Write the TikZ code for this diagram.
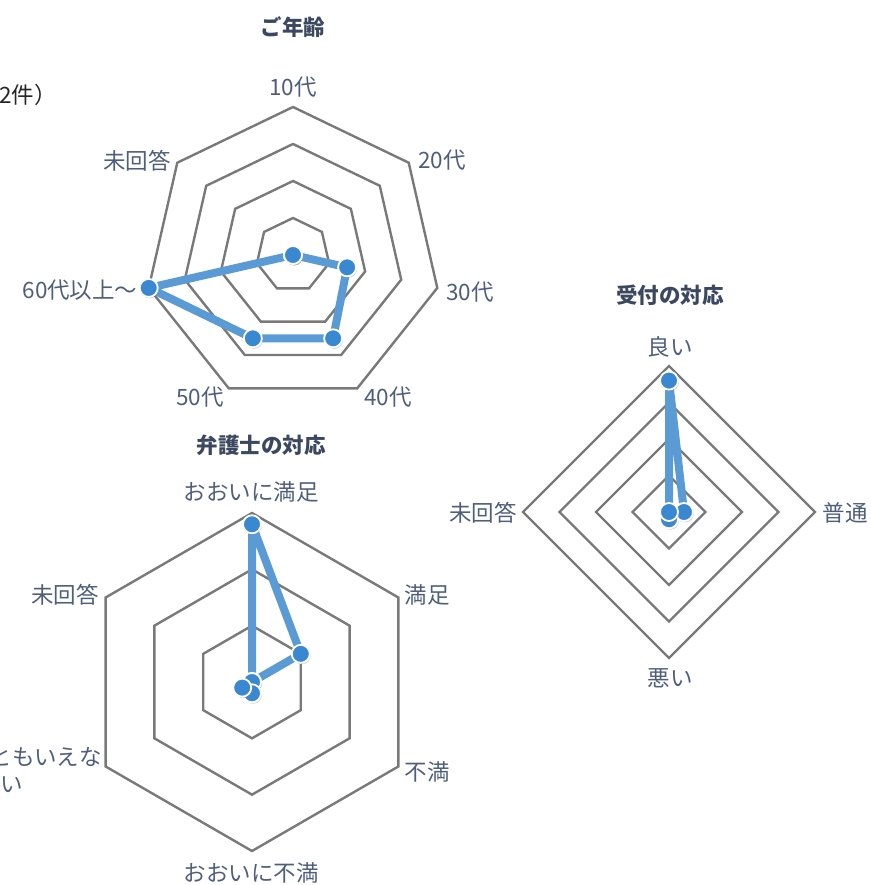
\documentclass[tikz,border=0pt]{standalone}
\usepackage{fontspec}
\setmainfont{Noto Sans CJK JP}
\usetikzlibrary{shadows}
\definecolor{gridc}{HTML}{797979}
\definecolor{linec}{HTML}{5B9BD5}
\definecolor{dotc}{HTML}{3A87D2}
\definecolor{labc}{HTML}{4F5F7B}
\definecolor{titc}{HTML}{3B4860}
\begin{document}
\begin{tikzpicture}[x=1pt,y=1pt,
  grid/.style={draw=gridc, line width=2.4pt, line join=miter},
  dataline/.style={draw=linec, line width=8pt, line join=round, line cap=round},
  dot/.style={circle, fill=dotc, draw=white, line width=1.8pt, minimum size=18pt, inner sep=0pt,
    drop shadow={opacity=0.35, shadow xshift=1pt, shadow yshift=-1.5pt}},
  lab/.style={text=labc, font=\fontsize{22.5}{27}\selectfont, inner sep=0pt},
  ttl/.style={text=titc, font=\fontsize{21.5}{26}\selectfont\bfseries, inner sep=0pt}]
\useasboundingbox (0,0) rectangle (870,885);

% ---------- Chart 1: age (heptagon) ----------
\begin{scope}[shift={(293,630)}]
  \foreach \r in {37,74,111,148}
    \draw[grid] (90:\r) \foreach \k in {1,...,6}{ -- ({90-\k*360/7}:\r)} -- cycle;
  \coordinate (a1) at (90:0);
  \coordinate (a2) at ({90-360/7}:0);
  \coordinate (a3) at ({90-2*360/7}:55.5);
  \coordinate (a4) at ({90-3*360/7}:92.5);
  \coordinate (a5) at ({90-4*360/7}:92.5);
  \coordinate (a6) at ({90-5*360/7}:148);
  \coordinate (a7) at ({90-6*360/7}:0);
  \draw[dataline] (a1) -- (a2) -- (a3) -- (a4) -- (a5) -- (a6) -- (a7) -- cycle;
  \foreach \p in {a1,a2,a3,a4,a5,a6,a7} \node[dot] (m\p) at (\p) {};
\end{scope}
\node[ttl] (t1) at (293,858) {ご年齢};
\node[lab] (l11) at (293,798) {10代};
\node[lab] (l12) at (442,725) {20代};
\node[lab] (l13) at (470,593) {30代};
\node[lab] (l14) at (388,488) {40代};
\node[lab] (l15) at (200,488) {50代};
\node[lab] (l16) at (80,595) {60代以上～};
\node[lab] (l17) at (137,724) {未回答};
\node[text=black!85, font=\fontsize{22.5}{27}\selectfont, inner sep=0pt, anchor=east] (cnt) at (57,790) {2件）};

% ---------- Chart 2: lawyer (hexagon) ----------
\begin{scope}[shift={(252,203)}]
  \foreach \r in {56.33,112.67,169}
    \draw[grid] (90:\r) \foreach \k in {1,...,5}{ -- ({90-\k*60}:\r)} -- cycle;
  \coordinate (b1) at (90:157.7);
  \coordinate (b2) at (30:56.3);
  \coordinate (b3) at (-30:0);
  \coordinate (b4) at (-90:11.3);
  \coordinate (b5) at (-150:11.3);
  \coordinate (b6) at (150:0);
  \draw[dataline] (b1) -- (b2) -- (b3) -- (b4) -- (b5) -- (b6) -- cycle;
  \foreach \p in {b1,b2,b3,b6,b4,b5} \node[dot] (m\p) at (\p) {};
\end{scope}
\node[ttl] (t2) at (261,440) {弁護士の対応};
\node[lab] (l21) at (251,393) {おおいに満足};
\node[lab] (l22) at (427,290) {満足};
\node[lab] (l23) at (427,113) {不満};
\node[lab] (l24) at (251,12) {おおいに不満};
\node[lab, align=center] (l25) at (12,115) {どちらともいえな\\い};
\node[lab] (l26) at (65,290) {未回答};

% ---------- Chart 3: reception (diamond) ----------
\begin{scope}[shift={(669,373)}]
  \foreach \r in {36.5,73,109.5,146}
    \draw[grid] (90:\r) -- (0:\r) -- (-90:\r) -- (180:\r) -- cycle;
  \coordinate (c1) at (90:131.4);
  \coordinate (c2) at (0:15);
  \coordinate (c3) at (-90:7.3);
  \coordinate (c4) at (180:0);
  \draw[dataline] (c1) -- (c2) -- (c3) -- (c4) -- cycle;
  \foreach \p in {c1,c2,c3,c4} \node[dot] (m\p) at (\p) {};
\end{scope}
\node[ttl] (t3) at (670,590) {受付の対応};
\node[lab] (l31) at (670,538) {良い};
\node[lab] (l32) at (845,372) {普通};
\node[lab] (l33) at (670,207) {悪い};
\node[lab] (l34) at (483,372) {未回答};
\end{tikzpicture}
\end{document}
